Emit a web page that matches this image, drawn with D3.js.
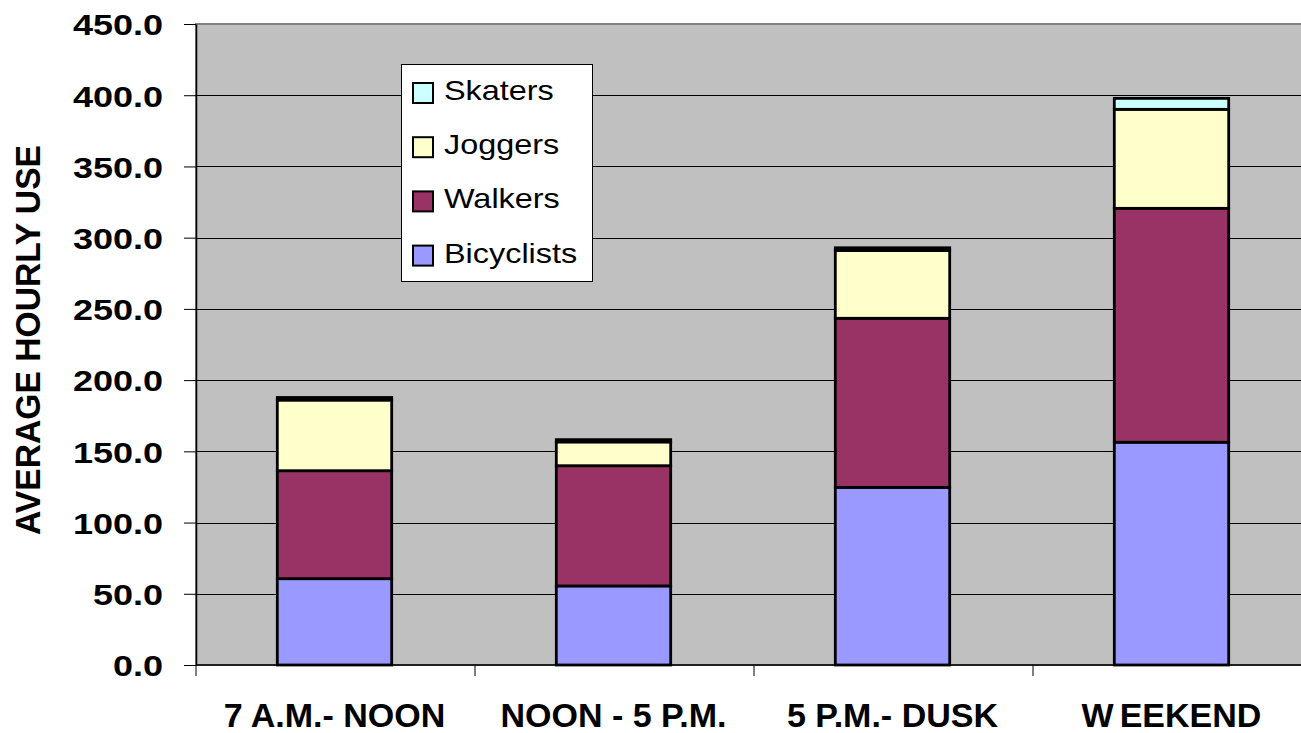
<!DOCTYPE html>
<html>
<head>
<meta charset="utf-8">
<script src="https://cdn.jsdelivr.net/npm/d3@7"></script>
<style>
  body { margin: 0; background: #fff; }
  svg { display: block; font-family: "Liberation Sans", Arial, sans-serif; }
</style>
</head>
<body>
<div class="container"></div>
<script>
// chart data
const categories = ["7 A.M.- NOON", "NOON - 5 P.M.", "5 P.M.- DUSK", "WEEKEND"];
const seriesNames = ["Bicyclists", "Walkers", "Joggers", "Skaters"];
const bicyclists = [60.6, 55.5, 124.7, 156.4];
const walkers = [75.8, 84.4, 118.7, 164.2];
const joggers = [49.6, 16.7, 47.6, 69.5];
const skaters = [1.8, 1.6, 1.9, 7.7];
const yTicks = [0, 50, 100, 150, 200, 250, 300, 350, 400, 450];

const colors = {
  Bicyclists: "#9999ff",
  Walkers: "#993366",
  Joggers: "#ffffcc",
  Skaters: "#ccffff"
};

const rows = categories.map((c, i) => ({
  cat: c,
  Bicyclists: bicyclists[i],
  Walkers: walkers[i],
  Joggers: joggers[i],
  Skaters: skaters[i]
}));

const width = 1301;
const height = 733;
const plot = { left: 196, top: 24, right: 1312, bottom: 665 };

const svg = d3
  .select(".container")
  .append("svg")
  .attr("width", width)
  .attr("height", height);

const xScale = d3
  .scaleBand()
  .domain(categories)
  .range([plot.left, plot.right]);

const yScale = d3
  .scaleLinear()
  .domain([0, 450])
  .range([plot.bottom, plot.top]);

// plot background
svg
  .append("rect")
  .attr("x", plot.left)
  .attr("y", plot.top)
  .attr("width", plot.right - plot.left)
  .attr("height", plot.bottom - plot.top)
  .attr("fill", "#c0c0c0")
  .attr("stroke", "#808080")
  .attr("stroke-width", 2);

// gridlines
svg
  .append("g")
  .selectAll("line")
  .data(yTicks.filter(d => d > 0 && d < 450))
  .enter()
  .append("line")
  .attr("x1", plot.left)
  .attr("x2", plot.right)
  .attr("y1", d => Math.round(yScale(d)) + 0.5)
  .attr("y2", d => Math.round(yScale(d)) + 0.5)
  .attr("stroke", "#000")
  .attr("stroke-width", 1);

// stacked bars
const stack = d3.stack().keys(seriesNames);
const layers = stack(rows);
const barW = xScale.bandwidth() * 0.41;

svg
  .append("g")
  .selectAll("g")
  .data(layers)
  .enter()
  .append("g")
  .attr("fill", d => colors[d.key])
  .selectAll("rect")
  .data(d => d)
  .enter()
  .append("rect")
  .attr("x", d => xScale(d.data.cat) + xScale.bandwidth() / 2 - barW / 2 - 1)
  .attr("y", d => yScale(d[1]))
  .attr("width", barW)
  .attr("height", d => yScale(d[0]) - yScale(d[1]))
  .attr("stroke", "#000")
  .attr("stroke-width", 2.8);

// y axis
const yAxis = d3
  .axisLeft(yScale)
  .tickValues(yTicks)
  .tickFormat(d3.format(".1f"))
  .tickSize(12)
  .tickSizeOuter(0);

const yG = svg
  .append("g")
  .attr("transform", `translate(${plot.left},0)`)
  .call(yAxis);
yG.select(".domain").attr("stroke", "#000").attr("stroke-width", 1.5);
yG.selectAll(".tick line").attr("stroke", "#000");
yG.selectAll(".tick text")
  .attr("x", 0)
  .attr("dy", "0.36em")
  .attr("transform", "translate(-33,0) scale(1.2,1)")
  .attr("fill", "#000")
  .style("font-size", "30px")
  .style("font-weight", "bold")
  .style("font-family", "'Liberation Sans', Arial, sans-serif");

// x axis line and category ticks
svg
  .append("line")
  .attr("x1", plot.left)
  .attr("x2", plot.right)
  .attr("y1", plot.bottom)
  .attr("y2", plot.bottom)
  .attr("stroke", "#000")
  .attr("stroke-width", 1.5);

svg
  .append("g")
  .selectAll("line")
  .data(categories)
  .enter()
  .append("line")
  .attr("x1", d => xScale(d))
  .attr("x2", d => xScale(d))
  .attr("y1", plot.bottom)
  .attr("y2", plot.bottom + 11)
  .attr("stroke", "#000")
  .attr("stroke-width", 1);

const xLabels = svg
  .append("g")
  .selectAll("text")
  .data(categories)
  .enter()
  .append("text")
  .attr("x", d => xScale(d) + xScale.bandwidth() / 2 - 1)
  .attr("y", 727)
  .attr("text-anchor", "middle")
  .style("font-size", "34px")
  .style("font-weight", "bold");

xLabels.each(function(d) {
  const t = d3.select(this);
  if (d === "WEEKEND") {
    t.append("tspan").text("W");
    t.append("tspan").attr("dx", 6).text("EEKEND");
  } else {
    t.text(d);
  }
});

// y title
svg
  .append("text")
  .attr("transform", "translate(40,340) rotate(-90) scale(1.16,1.2)")
  .attr("text-anchor", "middle")
  .style("font-size", "29px")
  .style("font-weight", "bold")
  .text("AVERAGE HOURLY USE");

// legend
const legend = svg.append("g");
legend
  .append("rect")
  .attr("x", 401.5)
  .attr("y", 64.5)
  .attr("width", 191)
  .attr("height", 217)
  .attr("fill", "#fff")
  .attr("stroke", "#000")
  .attr("stroke-width", 1);

const legendItems = legend
  .selectAll("g")
  .data(seriesNames.slice().reverse())
  .enter()
  .append("g")
  .attr("transform", (d, i) => `translate(0,${i * 54.2})`);

legendItems
  .append("rect")
  .attr("x", 413)
  .attr("y", 83)
  .attr("width", 20)
  .attr("height", 20)
  .attr("fill", d => colors[d])
  .attr("stroke", "#000")
  .attr("stroke-width", 2);

legendItems
  .append("text")
  .attr("transform", "translate(444,100) scale(1.2,1)")
  .style("font-size", "27px")
  .text(d => d);
</script>
</body>
</html>
